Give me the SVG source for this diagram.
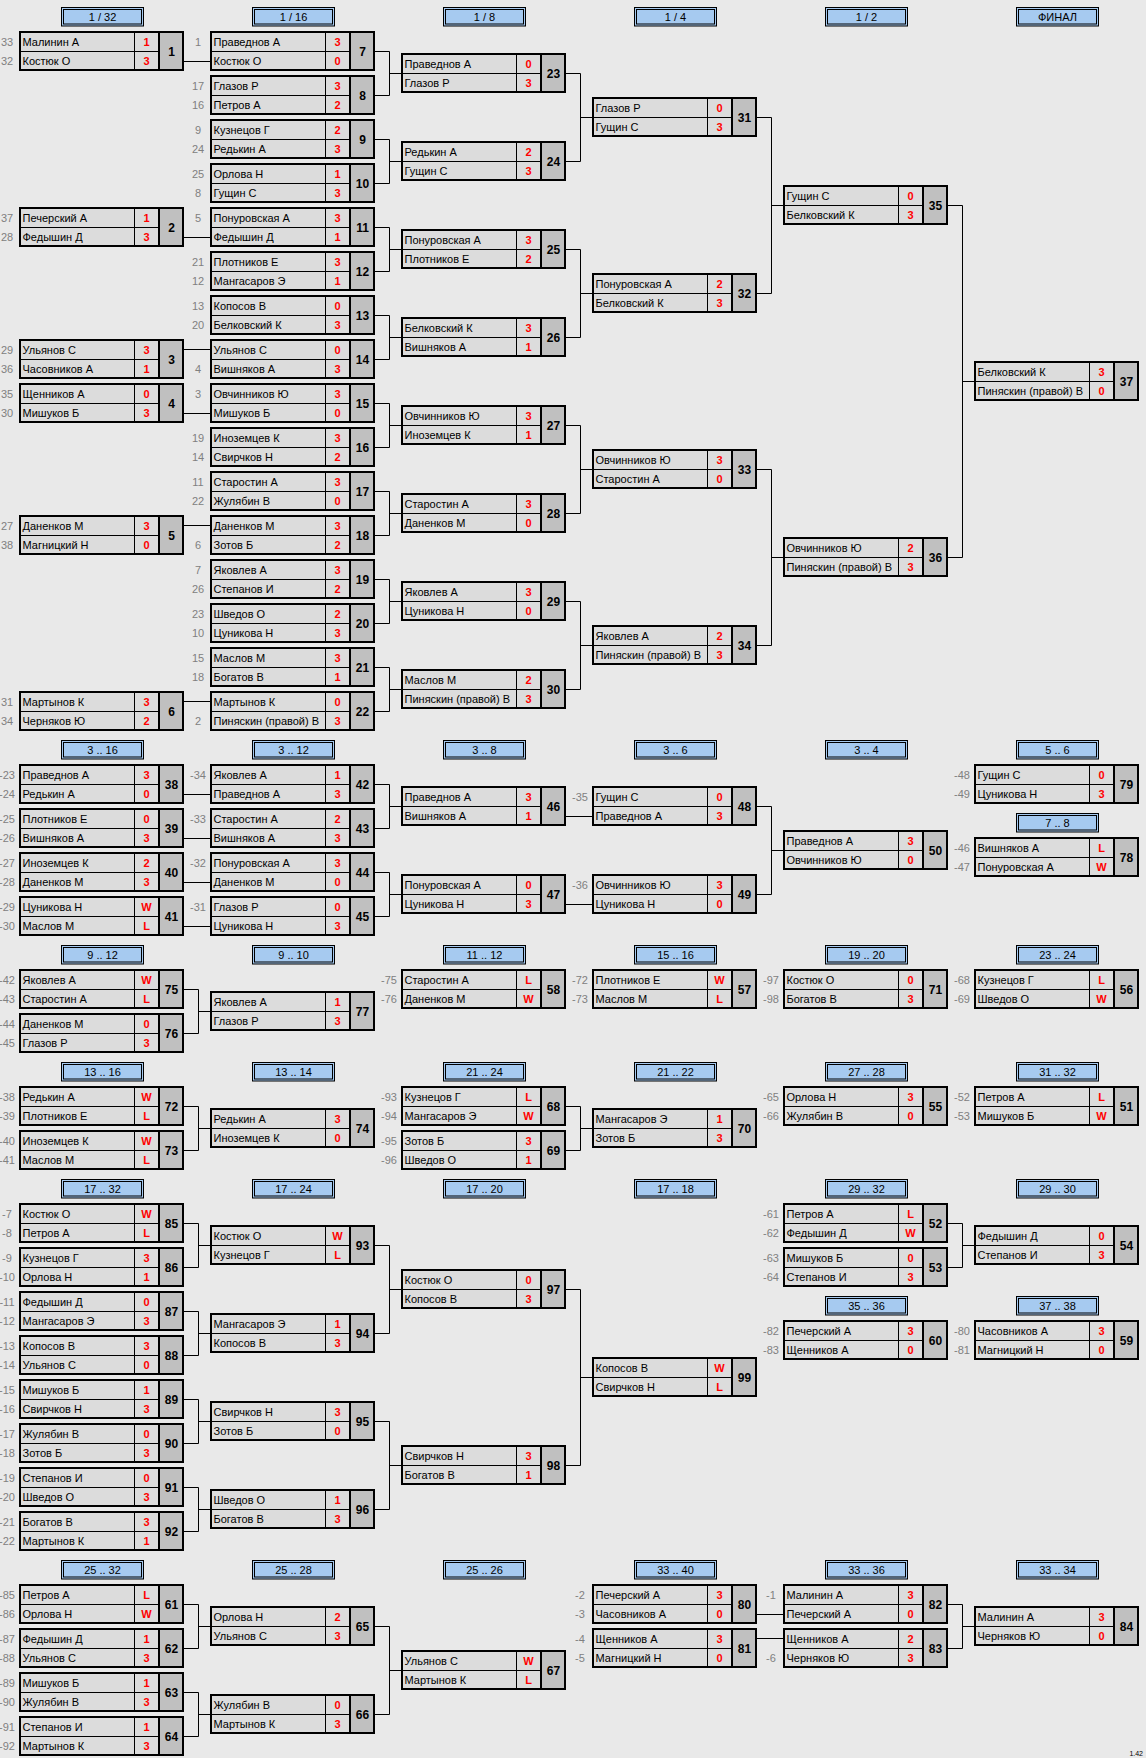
<svg xmlns="http://www.w3.org/2000/svg" xmlns:xlink="http://www.w3.org/1999/xlink" width="1146" height="1758" viewBox="0 0 1146 1758">
<style>
text{font-family:"Liberation Sans",Arial,sans-serif;font-size:11px}
.n{fill:#000}
.d{fill:#808080;text-anchor:middle}
.s{fill:#f00;font-weight:bold;text-anchor:middle}
.k{fill:#000;font-weight:bold;font-size:12px;text-anchor:middle}
.h{fill:#000;text-anchor:middle}
.c path{fill:none;stroke:#000;stroke-width:1}
</style>
<defs>
<g id="b">
<rect width="165" height="40" fill="#dcdcdc"/>
<rect x="140" width="25" height="40" fill="#c0c0c0"/>
<path d="M0 20.5H140M115.5 0V40" stroke="#000" stroke-width="1" fill="none"/>
<path d="M140 0V40" stroke="#000" stroke-width="2"/>
<rect x="1" y="1" width="163" height="38" fill="none" stroke="#000" stroke-width="2"/>
</g>
<g id="hd">
<rect x="0.5" y="0.5" width="82" height="18.5" fill="#a6caf0" stroke="#000"/>
<rect x="2.5" y="2.5" width="78" height="14.5" fill="none" stroke="#000"/>
</g>
</defs>
<rect width="1146" height="1758" fill="#e9e9e9"/>

<g id="headers">
<g id="h1" transform="translate(61,7)"><use href="#hd"/><text class="h" x="41.5" y="14">1 / 32</text></g>
<g id="h2" transform="translate(252,7)"><use href="#hd"/><text class="h" x="41.5" y="14">1 / 16</text></g>
<g id="h3" transform="translate(443,7)"><use href="#hd"/><text class="h" x="41.5" y="14">1 / 8</text></g>
<g id="h4" transform="translate(634,7)"><use href="#hd"/><text class="h" x="41.5" y="14">1 / 4</text></g>
<g id="h5" transform="translate(825,7)"><use href="#hd"/><text class="h" x="41.5" y="14">1 / 2</text></g>
<g id="h6" transform="translate(1016,7)"><use href="#hd"/><text class="h" x="41.5" y="14">ФИНАЛ</text></g>
<g id="h7" transform="translate(61,740)"><use href="#hd"/><text class="h" x="41.5" y="14">3 .. 16</text></g>
<g id="h8" transform="translate(252,740)"><use href="#hd"/><text class="h" x="41.5" y="14">3 .. 12</text></g>
<g id="h9" transform="translate(443,740)"><use href="#hd"/><text class="h" x="41.5" y="14">3 .. 8</text></g>
<g id="h10" transform="translate(634,740)"><use href="#hd"/><text class="h" x="41.5" y="14">3 .. 6</text></g>
<g id="h11" transform="translate(825,740)"><use href="#hd"/><text class="h" x="41.5" y="14">3 .. 4</text></g>
<g id="h12" transform="translate(1016,740)"><use href="#hd"/><text class="h" x="41.5" y="14">5 .. 6</text></g>
<g id="h13" transform="translate(1016,813)"><use href="#hd"/><text class="h" x="41.5" y="14">7 .. 8</text></g>
<g id="h14" transform="translate(61,945)"><use href="#hd"/><text class="h" x="41.5" y="14">9 .. 12</text></g>
<g id="h15" transform="translate(252,945)"><use href="#hd"/><text class="h" x="41.5" y="14">9 .. 10</text></g>
<g id="h16" transform="translate(443,945)"><use href="#hd"/><text class="h" x="41.5" y="14">11 .. 12</text></g>
<g id="h17" transform="translate(634,945)"><use href="#hd"/><text class="h" x="41.5" y="14">15 .. 16</text></g>
<g id="h18" transform="translate(825,945)"><use href="#hd"/><text class="h" x="41.5" y="14">19 .. 20</text></g>
<g id="h19" transform="translate(1016,945)"><use href="#hd"/><text class="h" x="41.5" y="14">23 .. 24</text></g>
<g id="h20" transform="translate(61,1062)"><use href="#hd"/><text class="h" x="41.5" y="14">13 .. 16</text></g>
<g id="h21" transform="translate(252,1062)"><use href="#hd"/><text class="h" x="41.5" y="14">13 .. 14</text></g>
<g id="h22" transform="translate(443,1062)"><use href="#hd"/><text class="h" x="41.5" y="14">21 .. 24</text></g>
<g id="h23" transform="translate(634,1062)"><use href="#hd"/><text class="h" x="41.5" y="14">21 .. 22</text></g>
<g id="h24" transform="translate(825,1062)"><use href="#hd"/><text class="h" x="41.5" y="14">27 .. 28</text></g>
<g id="h25" transform="translate(1016,1062)"><use href="#hd"/><text class="h" x="41.5" y="14">31 .. 32</text></g>
<g id="h26" transform="translate(61,1179)"><use href="#hd"/><text class="h" x="41.5" y="14">17 .. 32</text></g>
<g id="h27" transform="translate(252,1179)"><use href="#hd"/><text class="h" x="41.5" y="14">17 .. 24</text></g>
<g id="h28" transform="translate(443,1179)"><use href="#hd"/><text class="h" x="41.5" y="14">17 .. 20</text></g>
<g id="h29" transform="translate(634,1179)"><use href="#hd"/><text class="h" x="41.5" y="14">17 .. 18</text></g>
<g id="h30" transform="translate(825,1179)"><use href="#hd"/><text class="h" x="41.5" y="14">29 .. 32</text></g>
<g id="h31" transform="translate(1016,1179)"><use href="#hd"/><text class="h" x="41.5" y="14">29 .. 30</text></g>
<g id="h32" transform="translate(825,1296)"><use href="#hd"/><text class="h" x="41.5" y="14">35 .. 36</text></g>
<g id="h33" transform="translate(1016,1296)"><use href="#hd"/><text class="h" x="41.5" y="14">37 .. 38</text></g>
<g id="h34" transform="translate(61,1560)"><use href="#hd"/><text class="h" x="41.5" y="14">25 .. 32</text></g>
<g id="h35" transform="translate(252,1560)"><use href="#hd"/><text class="h" x="41.5" y="14">25 .. 28</text></g>
<g id="h36" transform="translate(443,1560)"><use href="#hd"/><text class="h" x="41.5" y="14">25 .. 26</text></g>
<g id="h37" transform="translate(634,1560)"><use href="#hd"/><text class="h" x="41.5" y="14">33 .. 40</text></g>
<g id="h38" transform="translate(825,1560)"><use href="#hd"/><text class="h" x="41.5" y="14">33 .. 36</text></g>
<g id="h39" transform="translate(1016,1560)"><use href="#hd"/><text class="h" x="41.5" y="14">33 .. 34</text></g>
</g>

<g id="connectors" class="c">
<path d="M184 61.5H210M184 237.5H210M184 349.5H210M184 413.5H210M184 525.5H210M184 701.5H210"/>
<path d="M375 51.5H389.5V95.5H375M389.5 73.5H401M375 139.5H389.5V183.5H375M389.5 161.5H401M375 227.5H389.5V271.5H375M389.5 249.5H401M375 315.5H389.5V359.5H375M389.5 337.5H401M375 403.5H389.5V447.5H375M389.5 425.5H401M375 491.5H389.5V535.5H375M389.5 513.5H401M375 579.5H389.5V623.5H375M389.5 601.5H401M375 667.5H389.5V711.5H375M389.5 689.5H401"/>
<path d="M566 73.5H580.5V161.5H566M580.5 117.5H592M566 249.5H580.5V337.5H566M580.5 293.5H592M566 425.5H580.5V513.5H566M580.5 469.5H592M566 601.5H580.5V689.5H566M580.5 645.5H592"/>
<path d="M757 117.5H771.5V293.5H757M771.5 205.5H783M757 469.5H771.5V645.5H757M771.5 557.5H783"/>
<path d="M948 205.5H962.5V557.5H948M962.5 381.5H974"/>
<path d="M184 794.5H210M184 838.5H210M184 882.5H210M184 926.5H210"/>
<path d="M375 784.5H389.5V828.5H375M389.5 806.5H401M375 872.5H389.5V916.5H375M389.5 894.5H401"/>
<path d="M566 816.5H592M566 904.5H592"/>
<path d="M757 806.5H771.5V894.5H757M771.5 850.5H783"/>
<path d="M184 989.5H198.5V1033.5H184M198.5 1011.5H210"/>
<path d="M184 1106.5H198.5V1150.5H184M198.5 1128.5H210M566 1106.5H580.5V1150.5H566M580.5 1128.5H592"/>
<path d="M184 1223.5H198.5V1267.5H184M198.5 1245.5H210M184 1311.5H198.5V1355.5H184M198.5 1333.5H210M184 1399.5H198.5V1443.5H184M198.5 1421.5H210M184 1487.5H198.5V1531.5H184M198.5 1509.5H210"/>
<path d="M375 1245.5H389.5V1333.5H375M389.5 1289.5H401M375 1421.5H389.5V1509.5H375M389.5 1465.5H401"/>
<path d="M566 1289.5H580.5V1465.5H566M580.5 1377.5H592"/>
<path d="M948 1223.5H962.5V1267.5H948M962.5 1245.5H974"/>
<path d="M184 1604.5H198.5V1648.5H184M198.5 1626.5H210M184 1692.5H198.5V1736.5H184M198.5 1714.5H210"/>
<path d="M375 1626.5H389.5V1714.5H375M389.5 1670.5H401"/>
<path d="M757 1614.5H783M757 1638.5H783"/>
<path d="M948 1604.5H962.5V1648.5H948M962.5 1626.5H974"/>
</g>

<g id="m1" transform="translate(19,31)"><use href="#b"/><text class="d" x="-12" y="15">33</text><text class="n" x="3.5" y="15">Малинин А</text><text class="s" x="127.5" y="15">1</text><text class="d" x="-12" y="34">32</text><text class="n" x="3.5" y="34">Костюк О</text><text class="s" x="127.5" y="34">3</text><text class="k" x="152.5" y="24.5">1</text></g>
<g id="m2" transform="translate(19,207)"><use href="#b"/><text class="d" x="-12" y="15">37</text><text class="n" x="3.5" y="15">Печерский А</text><text class="s" x="127.5" y="15">1</text><text class="d" x="-12" y="34">28</text><text class="n" x="3.5" y="34">Федышин Д</text><text class="s" x="127.5" y="34">3</text><text class="k" x="152.5" y="24.5">2</text></g>
<g id="m3" transform="translate(19,339)"><use href="#b"/><text class="d" x="-12" y="15">29</text><text class="n" x="3.5" y="15">Ульянов С</text><text class="s" x="127.5" y="15">3</text><text class="d" x="-12" y="34">36</text><text class="n" x="3.5" y="34">Часовников А</text><text class="s" x="127.5" y="34">1</text><text class="k" x="152.5" y="24.5">3</text></g>
<g id="m4" transform="translate(19,383)"><use href="#b"/><text class="d" x="-12" y="15">35</text><text class="n" x="3.5" y="15">Щенников А</text><text class="s" x="127.5" y="15">0</text><text class="d" x="-12" y="34">30</text><text class="n" x="3.5" y="34">Мишуков Б</text><text class="s" x="127.5" y="34">3</text><text class="k" x="152.5" y="24.5">4</text></g>
<g id="m5" transform="translate(19,515)"><use href="#b"/><text class="d" x="-12" y="15">27</text><text class="n" x="3.5" y="15">Даненков М</text><text class="s" x="127.5" y="15">3</text><text class="d" x="-12" y="34">38</text><text class="n" x="3.5" y="34">Магницкий Н</text><text class="s" x="127.5" y="34">0</text><text class="k" x="152.5" y="24.5">5</text></g>
<g id="m6" transform="translate(19,691)"><use href="#b"/><text class="d" x="-12" y="15">31</text><text class="n" x="3.5" y="15">Мартынов К</text><text class="s" x="127.5" y="15">3</text><text class="d" x="-12" y="34">34</text><text class="n" x="3.5" y="34">Черняков Ю</text><text class="s" x="127.5" y="34">2</text><text class="k" x="152.5" y="24.5">6</text></g>

<g id="m7" transform="translate(210,31)"><use href="#b"/><text class="d" x="-12" y="15">1</text><text class="n" x="3.5" y="15">Праведнов А</text><text class="s" x="127.5" y="15">3</text><text class="n" x="3.5" y="34">Костюк О</text><text class="s" x="127.5" y="34">0</text><text class="k" x="152.5" y="24.5">7</text></g>
<g id="m8" transform="translate(210,75)"><use href="#b"/><text class="d" x="-12" y="15">17</text><text class="n" x="3.5" y="15">Глазов Р</text><text class="s" x="127.5" y="15">3</text><text class="d" x="-12" y="34">16</text><text class="n" x="3.5" y="34">Петров А</text><text class="s" x="127.5" y="34">2</text><text class="k" x="152.5" y="24.5">8</text></g>
<g id="m9" transform="translate(210,119)"><use href="#b"/><text class="d" x="-12" y="15">9</text><text class="n" x="3.5" y="15">Кузнецов Г</text><text class="s" x="127.5" y="15">2</text><text class="d" x="-12" y="34">24</text><text class="n" x="3.5" y="34">Редькин А</text><text class="s" x="127.5" y="34">3</text><text class="k" x="152.5" y="24.5">9</text></g>
<g id="m10" transform="translate(210,163)"><use href="#b"/><text class="d" x="-12" y="15">25</text><text class="n" x="3.5" y="15">Орлова Н</text><text class="s" x="127.5" y="15">1</text><text class="d" x="-12" y="34">8</text><text class="n" x="3.5" y="34">Гущин С</text><text class="s" x="127.5" y="34">3</text><text class="k" x="152.5" y="24.5">10</text></g>
<g id="m11" transform="translate(210,207)"><use href="#b"/><text class="d" x="-12" y="15">5</text><text class="n" x="3.5" y="15">Понуровская А</text><text class="s" x="127.5" y="15">3</text><text class="n" x="3.5" y="34">Федышин Д</text><text class="s" x="127.5" y="34">1</text><text class="k" x="152.5" y="24.5">11</text></g>
<g id="m12" transform="translate(210,251)"><use href="#b"/><text class="d" x="-12" y="15">21</text><text class="n" x="3.5" y="15">Плотников Е</text><text class="s" x="127.5" y="15">3</text><text class="d" x="-12" y="34">12</text><text class="n" x="3.5" y="34">Мангасаров Э</text><text class="s" x="127.5" y="34">1</text><text class="k" x="152.5" y="24.5">12</text></g>
<g id="m13" transform="translate(210,295)"><use href="#b"/><text class="d" x="-12" y="15">13</text><text class="n" x="3.5" y="15">Копосов В</text><text class="s" x="127.5" y="15">0</text><text class="d" x="-12" y="34">20</text><text class="n" x="3.5" y="34">Белковский К</text><text class="s" x="127.5" y="34">3</text><text class="k" x="152.5" y="24.5">13</text></g>
<g id="m14" transform="translate(210,339)"><use href="#b"/><text class="n" x="3.5" y="15">Ульянов С</text><text class="s" x="127.5" y="15">0</text><text class="d" x="-12" y="34">4</text><text class="n" x="3.5" y="34">Вишняков А</text><text class="s" x="127.5" y="34">3</text><text class="k" x="152.5" y="24.5">14</text></g>
<g id="m15" transform="translate(210,383)"><use href="#b"/><text class="d" x="-12" y="15">3</text><text class="n" x="3.5" y="15">Овчинников Ю</text><text class="s" x="127.5" y="15">3</text><text class="n" x="3.5" y="34">Мишуков Б</text><text class="s" x="127.5" y="34">0</text><text class="k" x="152.5" y="24.5">15</text></g>
<g id="m16" transform="translate(210,427)"><use href="#b"/><text class="d" x="-12" y="15">19</text><text class="n" x="3.5" y="15">Иноземцев К</text><text class="s" x="127.5" y="15">3</text><text class="d" x="-12" y="34">14</text><text class="n" x="3.5" y="34">Свирчков Н</text><text class="s" x="127.5" y="34">2</text><text class="k" x="152.5" y="24.5">16</text></g>
<g id="m17" transform="translate(210,471)"><use href="#b"/><text class="d" x="-12" y="15">11</text><text class="n" x="3.5" y="15">Старостин А</text><text class="s" x="127.5" y="15">3</text><text class="d" x="-12" y="34">22</text><text class="n" x="3.5" y="34">Жулябин В</text><text class="s" x="127.5" y="34">0</text><text class="k" x="152.5" y="24.5">17</text></g>
<g id="m18" transform="translate(210,515)"><use href="#b"/><text class="n" x="3.5" y="15">Даненков М</text><text class="s" x="127.5" y="15">3</text><text class="d" x="-12" y="34">6</text><text class="n" x="3.5" y="34">Зотов Б</text><text class="s" x="127.5" y="34">2</text><text class="k" x="152.5" y="24.5">18</text></g>
<g id="m19" transform="translate(210,559)"><use href="#b"/><text class="d" x="-12" y="15">7</text><text class="n" x="3.5" y="15">Яковлев А</text><text class="s" x="127.5" y="15">3</text><text class="d" x="-12" y="34">26</text><text class="n" x="3.5" y="34">Степанов И</text><text class="s" x="127.5" y="34">2</text><text class="k" x="152.5" y="24.5">19</text></g>
<g id="m20" transform="translate(210,603)"><use href="#b"/><text class="d" x="-12" y="15">23</text><text class="n" x="3.5" y="15">Шведов О</text><text class="s" x="127.5" y="15">2</text><text class="d" x="-12" y="34">10</text><text class="n" x="3.5" y="34">Цуникова Н</text><text class="s" x="127.5" y="34">3</text><text class="k" x="152.5" y="24.5">20</text></g>
<g id="m21" transform="translate(210,647)"><use href="#b"/><text class="d" x="-12" y="15">15</text><text class="n" x="3.5" y="15">Маслов М</text><text class="s" x="127.5" y="15">3</text><text class="d" x="-12" y="34">18</text><text class="n" x="3.5" y="34">Богатов В</text><text class="s" x="127.5" y="34">1</text><text class="k" x="152.5" y="24.5">21</text></g>
<g id="m22" transform="translate(210,691)"><use href="#b"/><text class="n" x="3.5" y="15">Мартынов К</text><text class="s" x="127.5" y="15">0</text><text class="d" x="-12" y="34">2</text><text class="n" x="3.5" y="34">Пиняскин (правой) В</text><text class="s" x="127.5" y="34">3</text><text class="k" x="152.5" y="24.5">22</text></g>

<g id="m23" transform="translate(401,53)"><use href="#b"/><text class="n" x="3.5" y="15">Праведнов А</text><text class="s" x="127.5" y="15">0</text><text class="n" x="3.5" y="34">Глазов Р</text><text class="s" x="127.5" y="34">3</text><text class="k" x="152.5" y="24.5">23</text></g>
<g id="m24" transform="translate(401,141)"><use href="#b"/><text class="n" x="3.5" y="15">Редькин А</text><text class="s" x="127.5" y="15">2</text><text class="n" x="3.5" y="34">Гущин С</text><text class="s" x="127.5" y="34">3</text><text class="k" x="152.5" y="24.5">24</text></g>
<g id="m25" transform="translate(401,229)"><use href="#b"/><text class="n" x="3.5" y="15">Понуровская А</text><text class="s" x="127.5" y="15">3</text><text class="n" x="3.5" y="34">Плотников Е</text><text class="s" x="127.5" y="34">2</text><text class="k" x="152.5" y="24.5">25</text></g>
<g id="m26" transform="translate(401,317)"><use href="#b"/><text class="n" x="3.5" y="15">Белковский К</text><text class="s" x="127.5" y="15">3</text><text class="n" x="3.5" y="34">Вишняков А</text><text class="s" x="127.5" y="34">1</text><text class="k" x="152.5" y="24.5">26</text></g>
<g id="m27" transform="translate(401,405)"><use href="#b"/><text class="n" x="3.5" y="15">Овчинников Ю</text><text class="s" x="127.5" y="15">3</text><text class="n" x="3.5" y="34">Иноземцев К</text><text class="s" x="127.5" y="34">1</text><text class="k" x="152.5" y="24.5">27</text></g>
<g id="m28" transform="translate(401,493)"><use href="#b"/><text class="n" x="3.5" y="15">Старостин А</text><text class="s" x="127.5" y="15">3</text><text class="n" x="3.5" y="34">Даненков М</text><text class="s" x="127.5" y="34">0</text><text class="k" x="152.5" y="24.5">28</text></g>
<g id="m29" transform="translate(401,581)"><use href="#b"/><text class="n" x="3.5" y="15">Яковлев А</text><text class="s" x="127.5" y="15">3</text><text class="n" x="3.5" y="34">Цуникова Н</text><text class="s" x="127.5" y="34">0</text><text class="k" x="152.5" y="24.5">29</text></g>
<g id="m30" transform="translate(401,669)"><use href="#b"/><text class="n" x="3.5" y="15">Маслов М</text><text class="s" x="127.5" y="15">2</text><text class="n" x="3.5" y="34">Пиняскин (правой) В</text><text class="s" x="127.5" y="34">3</text><text class="k" x="152.5" y="24.5">30</text></g>

<g id="m31" transform="translate(592,97)"><use href="#b"/><text class="n" x="3.5" y="15">Глазов Р</text><text class="s" x="127.5" y="15">0</text><text class="n" x="3.5" y="34">Гущин С</text><text class="s" x="127.5" y="34">3</text><text class="k" x="152.5" y="24.5">31</text></g>
<g id="m32" transform="translate(592,273)"><use href="#b"/><text class="n" x="3.5" y="15">Понуровская А</text><text class="s" x="127.5" y="15">2</text><text class="n" x="3.5" y="34">Белковский К</text><text class="s" x="127.5" y="34">3</text><text class="k" x="152.5" y="24.5">32</text></g>
<g id="m33" transform="translate(592,449)"><use href="#b"/><text class="n" x="3.5" y="15">Овчинников Ю</text><text class="s" x="127.5" y="15">3</text><text class="n" x="3.5" y="34">Старостин А</text><text class="s" x="127.5" y="34">0</text><text class="k" x="152.5" y="24.5">33</text></g>
<g id="m34" transform="translate(592,625)"><use href="#b"/><text class="n" x="3.5" y="15">Яковлев А</text><text class="s" x="127.5" y="15">2</text><text class="n" x="3.5" y="34">Пиняскин (правой) В</text><text class="s" x="127.5" y="34">3</text><text class="k" x="152.5" y="24.5">34</text></g>

<g id="m35" transform="translate(783,185)"><use href="#b"/><text class="n" x="3.5" y="15">Гущин С</text><text class="s" x="127.5" y="15">0</text><text class="n" x="3.5" y="34">Белковский К</text><text class="s" x="127.5" y="34">3</text><text class="k" x="152.5" y="24.5">35</text></g>
<g id="m36" transform="translate(783,537)"><use href="#b"/><text class="n" x="3.5" y="15">Овчинников Ю</text><text class="s" x="127.5" y="15">2</text><text class="n" x="3.5" y="34">Пиняскин (правой) В</text><text class="s" x="127.5" y="34">3</text><text class="k" x="152.5" y="24.5">36</text></g>
<g id="m37" transform="translate(974,361)"><use href="#b"/><text class="n" x="3.5" y="15">Белковский К</text><text class="s" x="127.5" y="15">3</text><text class="n" x="3.5" y="34">Пиняскин (правой) В</text><text class="s" x="127.5" y="34">0</text><text class="k" x="152.5" y="24.5">37</text></g>

<g id="m38" transform="translate(19,764)"><use href="#b"/><text class="d" x="-12" y="15">-23</text><text class="n" x="3.5" y="15">Праведнов А</text><text class="s" x="127.5" y="15">3</text><text class="d" x="-12" y="34">-24</text><text class="n" x="3.5" y="34">Редькин А</text><text class="s" x="127.5" y="34">0</text><text class="k" x="152.5" y="24.5">38</text></g>
<g id="m39" transform="translate(19,808)"><use href="#b"/><text class="d" x="-12" y="15">-25</text><text class="n" x="3.5" y="15">Плотников Е</text><text class="s" x="127.5" y="15">0</text><text class="d" x="-12" y="34">-26</text><text class="n" x="3.5" y="34">Вишняков А</text><text class="s" x="127.5" y="34">3</text><text class="k" x="152.5" y="24.5">39</text></g>
<g id="m40" transform="translate(19,852)"><use href="#b"/><text class="d" x="-12" y="15">-27</text><text class="n" x="3.5" y="15">Иноземцев К</text><text class="s" x="127.5" y="15">2</text><text class="d" x="-12" y="34">-28</text><text class="n" x="3.5" y="34">Даненков М</text><text class="s" x="127.5" y="34">3</text><text class="k" x="152.5" y="24.5">40</text></g>
<g id="m41" transform="translate(19,896)"><use href="#b"/><text class="d" x="-12" y="15">-29</text><text class="n" x="3.5" y="15">Цуникова Н</text><text class="s" x="127.5" y="15">W</text><text class="d" x="-12" y="34">-30</text><text class="n" x="3.5" y="34">Маслов М</text><text class="s" x="127.5" y="34">L</text><text class="k" x="152.5" y="24.5">41</text></g>
<g id="m42" transform="translate(210,764)"><use href="#b"/><text class="d" x="-12" y="15">-34</text><text class="n" x="3.5" y="15">Яковлев А</text><text class="s" x="127.5" y="15">1</text><text class="n" x="3.5" y="34">Праведнов А</text><text class="s" x="127.5" y="34">3</text><text class="k" x="152.5" y="24.5">42</text></g>
<g id="m43" transform="translate(210,808)"><use href="#b"/><text class="d" x="-12" y="15">-33</text><text class="n" x="3.5" y="15">Старостин А</text><text class="s" x="127.5" y="15">2</text><text class="n" x="3.5" y="34">Вишняков А</text><text class="s" x="127.5" y="34">3</text><text class="k" x="152.5" y="24.5">43</text></g>
<g id="m44" transform="translate(210,852)"><use href="#b"/><text class="d" x="-12" y="15">-32</text><text class="n" x="3.5" y="15">Понуровская А</text><text class="s" x="127.5" y="15">3</text><text class="n" x="3.5" y="34">Даненков М</text><text class="s" x="127.5" y="34">0</text><text class="k" x="152.5" y="24.5">44</text></g>
<g id="m45" transform="translate(210,896)"><use href="#b"/><text class="d" x="-12" y="15">-31</text><text class="n" x="3.5" y="15">Глазов Р</text><text class="s" x="127.5" y="15">0</text><text class="n" x="3.5" y="34">Цуникова Н</text><text class="s" x="127.5" y="34">3</text><text class="k" x="152.5" y="24.5">45</text></g>
<g id="m46" transform="translate(401,786)"><use href="#b"/><text class="n" x="3.5" y="15">Праведнов А</text><text class="s" x="127.5" y="15">3</text><text class="n" x="3.5" y="34">Вишняков А</text><text class="s" x="127.5" y="34">1</text><text class="k" x="152.5" y="24.5">46</text></g>
<g id="m47" transform="translate(401,874)"><use href="#b"/><text class="n" x="3.5" y="15">Понуровская А</text><text class="s" x="127.5" y="15">0</text><text class="n" x="3.5" y="34">Цуникова Н</text><text class="s" x="127.5" y="34">3</text><text class="k" x="152.5" y="24.5">47</text></g>
<g id="m48" transform="translate(592,786)"><use href="#b"/><text class="d" x="-12" y="15">-35</text><text class="n" x="3.5" y="15">Гущин С</text><text class="s" x="127.5" y="15">0</text><text class="n" x="3.5" y="34">Праведнов А</text><text class="s" x="127.5" y="34">3</text><text class="k" x="152.5" y="24.5">48</text></g>
<g id="m49" transform="translate(592,874)"><use href="#b"/><text class="d" x="-12" y="15">-36</text><text class="n" x="3.5" y="15">Овчинников Ю</text><text class="s" x="127.5" y="15">3</text><text class="n" x="3.5" y="34">Цуникова Н</text><text class="s" x="127.5" y="34">0</text><text class="k" x="152.5" y="24.5">49</text></g>
<g id="m50" transform="translate(783,830)"><use href="#b"/><text class="n" x="3.5" y="15">Праведнов А</text><text class="s" x="127.5" y="15">3</text><text class="n" x="3.5" y="34">Овчинников Ю</text><text class="s" x="127.5" y="34">0</text><text class="k" x="152.5" y="24.5">50</text></g>
<g id="m79" transform="translate(974,764)"><use href="#b"/><text class="d" x="-12" y="15">-48</text><text class="n" x="3.5" y="15">Гущин С</text><text class="s" x="127.5" y="15">0</text><text class="d" x="-12" y="34">-49</text><text class="n" x="3.5" y="34">Цуникова Н</text><text class="s" x="127.5" y="34">3</text><text class="k" x="152.5" y="24.5">79</text></g>
<g id="m78" transform="translate(974,837)"><use href="#b"/><text class="d" x="-12" y="15">-46</text><text class="n" x="3.5" y="15">Вишняков А</text><text class="s" x="127.5" y="15">L</text><text class="d" x="-12" y="34">-47</text><text class="n" x="3.5" y="34">Понуровская А</text><text class="s" x="127.5" y="34">W</text><text class="k" x="152.5" y="24.5">78</text></g>

<g id="m75" transform="translate(19,969)"><use href="#b"/><text class="d" x="-12" y="15">-42</text><text class="n" x="3.5" y="15">Яковлев А</text><text class="s" x="127.5" y="15">W</text><text class="d" x="-12" y="34">-43</text><text class="n" x="3.5" y="34">Старостин А</text><text class="s" x="127.5" y="34">L</text><text class="k" x="152.5" y="24.5">75</text></g>
<g id="m76" transform="translate(19,1013)"><use href="#b"/><text class="d" x="-12" y="15">-44</text><text class="n" x="3.5" y="15">Даненков М</text><text class="s" x="127.5" y="15">0</text><text class="d" x="-12" y="34">-45</text><text class="n" x="3.5" y="34">Глазов Р</text><text class="s" x="127.5" y="34">3</text><text class="k" x="152.5" y="24.5">76</text></g>
<g id="m77" transform="translate(210,991)"><use href="#b"/><text class="n" x="3.5" y="15">Яковлев А</text><text class="s" x="127.5" y="15">1</text><text class="n" x="3.5" y="34">Глазов Р</text><text class="s" x="127.5" y="34">3</text><text class="k" x="152.5" y="24.5">77</text></g>
<g id="m58" transform="translate(401,969)"><use href="#b"/><text class="d" x="-12" y="15">-75</text><text class="n" x="3.5" y="15">Старостин А</text><text class="s" x="127.5" y="15">L</text><text class="d" x="-12" y="34">-76</text><text class="n" x="3.5" y="34">Даненков М</text><text class="s" x="127.5" y="34">W</text><text class="k" x="152.5" y="24.5">58</text></g>
<g id="m57" transform="translate(592,969)"><use href="#b"/><text class="d" x="-12" y="15">-72</text><text class="n" x="3.5" y="15">Плотников Е</text><text class="s" x="127.5" y="15">W</text><text class="d" x="-12" y="34">-73</text><text class="n" x="3.5" y="34">Маслов М</text><text class="s" x="127.5" y="34">L</text><text class="k" x="152.5" y="24.5">57</text></g>
<g id="m71" transform="translate(783,969)"><use href="#b"/><text class="d" x="-12" y="15">-97</text><text class="n" x="3.5" y="15">Костюк О</text><text class="s" x="127.5" y="15">0</text><text class="d" x="-12" y="34">-98</text><text class="n" x="3.5" y="34">Богатов В</text><text class="s" x="127.5" y="34">3</text><text class="k" x="152.5" y="24.5">71</text></g>
<g id="m56" transform="translate(974,969)"><use href="#b"/><text class="d" x="-12" y="15">-68</text><text class="n" x="3.5" y="15">Кузнецов Г</text><text class="s" x="127.5" y="15">L</text><text class="d" x="-12" y="34">-69</text><text class="n" x="3.5" y="34">Шведов О</text><text class="s" x="127.5" y="34">W</text><text class="k" x="152.5" y="24.5">56</text></g>

<g id="m72" transform="translate(19,1086)"><use href="#b"/><text class="d" x="-12" y="15">-38</text><text class="n" x="3.5" y="15">Редькин А</text><text class="s" x="127.5" y="15">W</text><text class="d" x="-12" y="34">-39</text><text class="n" x="3.5" y="34">Плотников Е</text><text class="s" x="127.5" y="34">L</text><text class="k" x="152.5" y="24.5">72</text></g>
<g id="m73" transform="translate(19,1130)"><use href="#b"/><text class="d" x="-12" y="15">-40</text><text class="n" x="3.5" y="15">Иноземцев К</text><text class="s" x="127.5" y="15">W</text><text class="d" x="-12" y="34">-41</text><text class="n" x="3.5" y="34">Маслов М</text><text class="s" x="127.5" y="34">L</text><text class="k" x="152.5" y="24.5">73</text></g>
<g id="m74" transform="translate(210,1108)"><use href="#b"/><text class="n" x="3.5" y="15">Редькин А</text><text class="s" x="127.5" y="15">3</text><text class="n" x="3.5" y="34">Иноземцев К</text><text class="s" x="127.5" y="34">0</text><text class="k" x="152.5" y="24.5">74</text></g>
<g id="m68" transform="translate(401,1086)"><use href="#b"/><text class="d" x="-12" y="15">-93</text><text class="n" x="3.5" y="15">Кузнецов Г</text><text class="s" x="127.5" y="15">L</text><text class="d" x="-12" y="34">-94</text><text class="n" x="3.5" y="34">Мангасаров Э</text><text class="s" x="127.5" y="34">W</text><text class="k" x="152.5" y="24.5">68</text></g>
<g id="m69" transform="translate(401,1130)"><use href="#b"/><text class="d" x="-12" y="15">-95</text><text class="n" x="3.5" y="15">Зотов Б</text><text class="s" x="127.5" y="15">3</text><text class="d" x="-12" y="34">-96</text><text class="n" x="3.5" y="34">Шведов О</text><text class="s" x="127.5" y="34">1</text><text class="k" x="152.5" y="24.5">69</text></g>
<g id="m70" transform="translate(592,1108)"><use href="#b"/><text class="n" x="3.5" y="15">Мангасаров Э</text><text class="s" x="127.5" y="15">1</text><text class="n" x="3.5" y="34">Зотов Б</text><text class="s" x="127.5" y="34">3</text><text class="k" x="152.5" y="24.5">70</text></g>
<g id="m55" transform="translate(783,1086)"><use href="#b"/><text class="d" x="-12" y="15">-65</text><text class="n" x="3.5" y="15">Орлова Н</text><text class="s" x="127.5" y="15">3</text><text class="d" x="-12" y="34">-66</text><text class="n" x="3.5" y="34">Жулябин В</text><text class="s" x="127.5" y="34">0</text><text class="k" x="152.5" y="24.5">55</text></g>
<g id="m51" transform="translate(974,1086)"><use href="#b"/><text class="d" x="-12" y="15">-52</text><text class="n" x="3.5" y="15">Петров А</text><text class="s" x="127.5" y="15">L</text><text class="d" x="-12" y="34">-53</text><text class="n" x="3.5" y="34">Мишуков Б</text><text class="s" x="127.5" y="34">W</text><text class="k" x="152.5" y="24.5">51</text></g>

<g id="m85" transform="translate(19,1203)"><use href="#b"/><text class="d" x="-12" y="15">-7</text><text class="n" x="3.5" y="15">Костюк О</text><text class="s" x="127.5" y="15">W</text><text class="d" x="-12" y="34">-8</text><text class="n" x="3.5" y="34">Петров А</text><text class="s" x="127.5" y="34">L</text><text class="k" x="152.5" y="24.5">85</text></g>
<g id="m86" transform="translate(19,1247)"><use href="#b"/><text class="d" x="-12" y="15">-9</text><text class="n" x="3.5" y="15">Кузнецов Г</text><text class="s" x="127.5" y="15">3</text><text class="d" x="-12" y="34">-10</text><text class="n" x="3.5" y="34">Орлова Н</text><text class="s" x="127.5" y="34">1</text><text class="k" x="152.5" y="24.5">86</text></g>
<g id="m87" transform="translate(19,1291)"><use href="#b"/><text class="d" x="-12" y="15">-11</text><text class="n" x="3.5" y="15">Федышин Д</text><text class="s" x="127.5" y="15">0</text><text class="d" x="-12" y="34">-12</text><text class="n" x="3.5" y="34">Мангасаров Э</text><text class="s" x="127.5" y="34">3</text><text class="k" x="152.5" y="24.5">87</text></g>
<g id="m88" transform="translate(19,1335)"><use href="#b"/><text class="d" x="-12" y="15">-13</text><text class="n" x="3.5" y="15">Копосов В</text><text class="s" x="127.5" y="15">3</text><text class="d" x="-12" y="34">-14</text><text class="n" x="3.5" y="34">Ульянов С</text><text class="s" x="127.5" y="34">0</text><text class="k" x="152.5" y="24.5">88</text></g>
<g id="m89" transform="translate(19,1379)"><use href="#b"/><text class="d" x="-12" y="15">-15</text><text class="n" x="3.5" y="15">Мишуков Б</text><text class="s" x="127.5" y="15">1</text><text class="d" x="-12" y="34">-16</text><text class="n" x="3.5" y="34">Свирчков Н</text><text class="s" x="127.5" y="34">3</text><text class="k" x="152.5" y="24.5">89</text></g>
<g id="m90" transform="translate(19,1423)"><use href="#b"/><text class="d" x="-12" y="15">-17</text><text class="n" x="3.5" y="15">Жулябин В</text><text class="s" x="127.5" y="15">0</text><text class="d" x="-12" y="34">-18</text><text class="n" x="3.5" y="34">Зотов Б</text><text class="s" x="127.5" y="34">3</text><text class="k" x="152.5" y="24.5">90</text></g>
<g id="m91" transform="translate(19,1467)"><use href="#b"/><text class="d" x="-12" y="15">-19</text><text class="n" x="3.5" y="15">Степанов И</text><text class="s" x="127.5" y="15">0</text><text class="d" x="-12" y="34">-20</text><text class="n" x="3.5" y="34">Шведов О</text><text class="s" x="127.5" y="34">3</text><text class="k" x="152.5" y="24.5">91</text></g>
<g id="m92" transform="translate(19,1511)"><use href="#b"/><text class="d" x="-12" y="15">-21</text><text class="n" x="3.5" y="15">Богатов В</text><text class="s" x="127.5" y="15">3</text><text class="d" x="-12" y="34">-22</text><text class="n" x="3.5" y="34">Мартынов К</text><text class="s" x="127.5" y="34">1</text><text class="k" x="152.5" y="24.5">92</text></g>
<g id="m93" transform="translate(210,1225)"><use href="#b"/><text class="n" x="3.5" y="15">Костюк О</text><text class="s" x="127.5" y="15">W</text><text class="n" x="3.5" y="34">Кузнецов Г</text><text class="s" x="127.5" y="34">L</text><text class="k" x="152.5" y="24.5">93</text></g>
<g id="m94" transform="translate(210,1313)"><use href="#b"/><text class="n" x="3.5" y="15">Мангасаров Э</text><text class="s" x="127.5" y="15">1</text><text class="n" x="3.5" y="34">Копосов В</text><text class="s" x="127.5" y="34">3</text><text class="k" x="152.5" y="24.5">94</text></g>
<g id="m95" transform="translate(210,1401)"><use href="#b"/><text class="n" x="3.5" y="15">Свирчков Н</text><text class="s" x="127.5" y="15">3</text><text class="n" x="3.5" y="34">Зотов Б</text><text class="s" x="127.5" y="34">0</text><text class="k" x="152.5" y="24.5">95</text></g>
<g id="m96" transform="translate(210,1489)"><use href="#b"/><text class="n" x="3.5" y="15">Шведов О</text><text class="s" x="127.5" y="15">1</text><text class="n" x="3.5" y="34">Богатов В</text><text class="s" x="127.5" y="34">3</text><text class="k" x="152.5" y="24.5">96</text></g>
<g id="m97" transform="translate(401,1269)"><use href="#b"/><text class="n" x="3.5" y="15">Костюк О</text><text class="s" x="127.5" y="15">0</text><text class="n" x="3.5" y="34">Копосов В</text><text class="s" x="127.5" y="34">3</text><text class="k" x="152.5" y="24.5">97</text></g>
<g id="m98" transform="translate(401,1445)"><use href="#b"/><text class="n" x="3.5" y="15">Свирчков Н</text><text class="s" x="127.5" y="15">3</text><text class="n" x="3.5" y="34">Богатов В</text><text class="s" x="127.5" y="34">1</text><text class="k" x="152.5" y="24.5">98</text></g>
<g id="m99" transform="translate(592,1357)"><use href="#b"/><text class="n" x="3.5" y="15">Копосов В</text><text class="s" x="127.5" y="15">W</text><text class="n" x="3.5" y="34">Свирчков Н</text><text class="s" x="127.5" y="34">L</text><text class="k" x="152.5" y="24.5">99</text></g>
<g id="m52" transform="translate(783,1203)"><use href="#b"/><text class="d" x="-12" y="15">-61</text><text class="n" x="3.5" y="15">Петров А</text><text class="s" x="127.5" y="15">L</text><text class="d" x="-12" y="34">-62</text><text class="n" x="3.5" y="34">Федышин Д</text><text class="s" x="127.5" y="34">W</text><text class="k" x="152.5" y="24.5">52</text></g>
<g id="m53" transform="translate(783,1247)"><use href="#b"/><text class="d" x="-12" y="15">-63</text><text class="n" x="3.5" y="15">Мишуков Б</text><text class="s" x="127.5" y="15">0</text><text class="d" x="-12" y="34">-64</text><text class="n" x="3.5" y="34">Степанов И</text><text class="s" x="127.5" y="34">3</text><text class="k" x="152.5" y="24.5">53</text></g>
<g id="m54" transform="translate(974,1225)"><use href="#b"/><text class="n" x="3.5" y="15">Федышин Д</text><text class="s" x="127.5" y="15">0</text><text class="n" x="3.5" y="34">Степанов И</text><text class="s" x="127.5" y="34">3</text><text class="k" x="152.5" y="24.5">54</text></g>
<g id="m60" transform="translate(783,1320)"><use href="#b"/><text class="d" x="-12" y="15">-82</text><text class="n" x="3.5" y="15">Печерский А</text><text class="s" x="127.5" y="15">3</text><text class="d" x="-12" y="34">-83</text><text class="n" x="3.5" y="34">Щенников А</text><text class="s" x="127.5" y="34">0</text><text class="k" x="152.5" y="24.5">60</text></g>
<g id="m59" transform="translate(974,1320)"><use href="#b"/><text class="d" x="-12" y="15">-80</text><text class="n" x="3.5" y="15">Часовников А</text><text class="s" x="127.5" y="15">3</text><text class="d" x="-12" y="34">-81</text><text class="n" x="3.5" y="34">Магницкий Н</text><text class="s" x="127.5" y="34">0</text><text class="k" x="152.5" y="24.5">59</text></g>

<g id="m61" transform="translate(19,1584)"><use href="#b"/><text class="d" x="-12" y="15">-85</text><text class="n" x="3.5" y="15">Петров А</text><text class="s" x="127.5" y="15">L</text><text class="d" x="-12" y="34">-86</text><text class="n" x="3.5" y="34">Орлова Н</text><text class="s" x="127.5" y="34">W</text><text class="k" x="152.5" y="24.5">61</text></g>
<g id="m62" transform="translate(19,1628)"><use href="#b"/><text class="d" x="-12" y="15">-87</text><text class="n" x="3.5" y="15">Федышин Д</text><text class="s" x="127.5" y="15">1</text><text class="d" x="-12" y="34">-88</text><text class="n" x="3.5" y="34">Ульянов С</text><text class="s" x="127.5" y="34">3</text><text class="k" x="152.5" y="24.5">62</text></g>
<g id="m63" transform="translate(19,1672)"><use href="#b"/><text class="d" x="-12" y="15">-89</text><text class="n" x="3.5" y="15">Мишуков Б</text><text class="s" x="127.5" y="15">1</text><text class="d" x="-12" y="34">-90</text><text class="n" x="3.5" y="34">Жулябин В</text><text class="s" x="127.5" y="34">3</text><text class="k" x="152.5" y="24.5">63</text></g>
<g id="m64" transform="translate(19,1716)"><use href="#b"/><text class="d" x="-12" y="15">-91</text><text class="n" x="3.5" y="15">Степанов И</text><text class="s" x="127.5" y="15">1</text><text class="d" x="-12" y="34">-92</text><text class="n" x="3.5" y="34">Мартынов К</text><text class="s" x="127.5" y="34">3</text><text class="k" x="152.5" y="24.5">64</text></g>
<g id="m65" transform="translate(210,1606)"><use href="#b"/><text class="n" x="3.5" y="15">Орлова Н</text><text class="s" x="127.5" y="15">2</text><text class="n" x="3.5" y="34">Ульянов С</text><text class="s" x="127.5" y="34">3</text><text class="k" x="152.5" y="24.5">65</text></g>
<g id="m66" transform="translate(210,1694)"><use href="#b"/><text class="n" x="3.5" y="15">Жулябин В</text><text class="s" x="127.5" y="15">0</text><text class="n" x="3.5" y="34">Мартынов К</text><text class="s" x="127.5" y="34">3</text><text class="k" x="152.5" y="24.5">66</text></g>
<g id="m67" transform="translate(401,1650)"><use href="#b"/><text class="n" x="3.5" y="15">Ульянов С</text><text class="s" x="127.5" y="15">W</text><text class="n" x="3.5" y="34">Мартынов К</text><text class="s" x="127.5" y="34">L</text><text class="k" x="152.5" y="24.5">67</text></g>
<g id="m80" transform="translate(592,1584)"><use href="#b"/><text class="d" x="-12" y="15">-2</text><text class="n" x="3.5" y="15">Печерский А</text><text class="s" x="127.5" y="15">3</text><text class="d" x="-12" y="34">-3</text><text class="n" x="3.5" y="34">Часовников А</text><text class="s" x="127.5" y="34">0</text><text class="k" x="152.5" y="24.5">80</text></g>
<g id="m81" transform="translate(592,1628)"><use href="#b"/><text class="d" x="-12" y="15">-4</text><text class="n" x="3.5" y="15">Щенников А</text><text class="s" x="127.5" y="15">3</text><text class="d" x="-12" y="34">-5</text><text class="n" x="3.5" y="34">Магницкий Н</text><text class="s" x="127.5" y="34">0</text><text class="k" x="152.5" y="24.5">81</text></g>
<g id="m82" transform="translate(783,1584)"><use href="#b"/><text class="d" x="-12" y="15">-1</text><text class="n" x="3.5" y="15">Малинин А</text><text class="s" x="127.5" y="15">3</text><text class="n" x="3.5" y="34">Печерский А</text><text class="s" x="127.5" y="34">0</text><text class="k" x="152.5" y="24.5">82</text></g>
<g id="m83" transform="translate(783,1628)"><use href="#b"/><text class="n" x="3.5" y="15">Щенников А</text><text class="s" x="127.5" y="15">2</text><text class="d" x="-12" y="34">-6</text><text class="n" x="3.5" y="34">Черняков Ю</text><text class="s" x="127.5" y="34">3</text><text class="k" x="152.5" y="24.5">83</text></g>
<g id="m84" transform="translate(974,1606)"><use href="#b"/><text class="n" x="3.5" y="15">Малинин А</text><text class="s" x="127.5" y="15">3</text><text class="n" x="3.5" y="34">Черняков Ю</text><text class="s" x="127.5" y="34">0</text><text class="k" x="152.5" y="24.5">84</text></g>

<text x="1143" y="1756" text-anchor="end" style="font-size:7px;fill:#000">1.42</text>
</svg>
